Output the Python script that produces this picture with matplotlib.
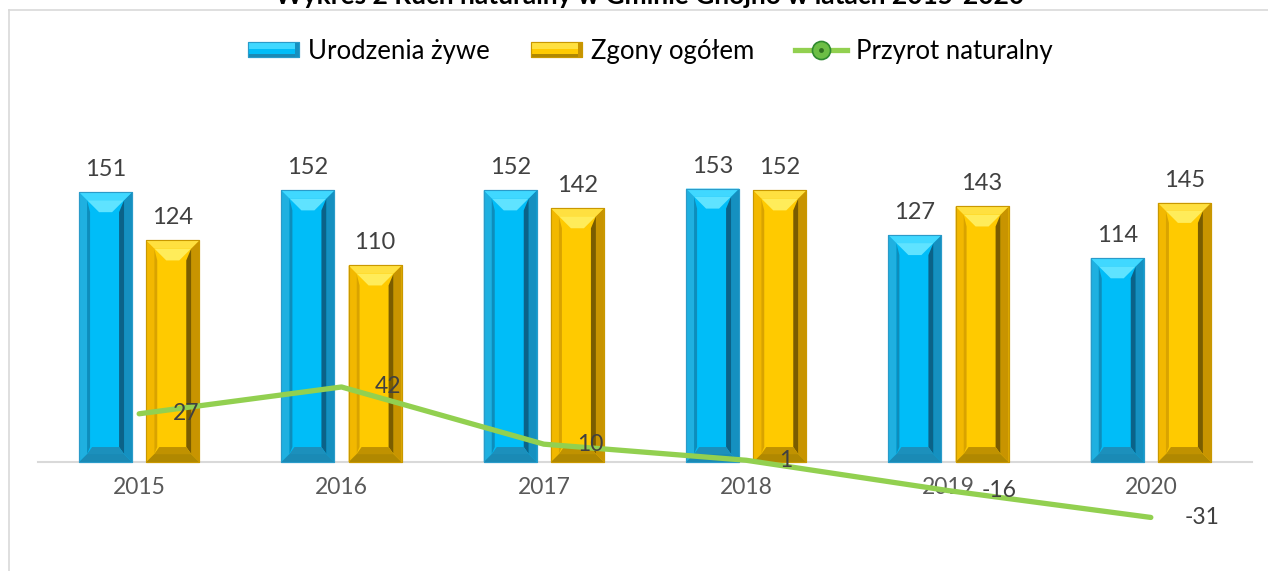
import numpy as np
import matplotlib
matplotlib.use("Agg")
import matplotlib.pyplot as plt
from matplotlib.patches import Polygon, Rectangle
from matplotlib.lines import Line2D
from matplotlib.legend_handler import HandlerBase, HandlerTuple

plt.rcParams['font.family'] = ['Lato', 'DejaVu Sans']

# data
years = ['2015', '2016', '2017', '2018', '2019', '2020']
urodzenia = [151, 152, 152, 153, 127, 114]
zgony = [124, 110, 142, 152, 143, 145]
przyrost = [27, 42, 10, 1, -16, -31]

title = 'Wykres 2 Ruch naturalny w Gminie Gnojno w latach 2015-2020'
labels = ['Urodzenia żywe', 'Zgony ogółem', 'Przyrot naturalny']

# bevel palettes
BLUE = dict(face='#00BDF8', edge='#2A9BC9', otop='#40D8FF', oleft='#1FB0E0',
            oright='#1590C0', obot='#1A8AB5', itop='#5FE3FF', iright='#0B6288',
            ileft='#0E8DBB', ibot='#1C90BC')
GOLD = dict(face='#FFCA00', edge='#C99800', otop='#FFE040', oleft='#F2B800',
            oright='#C89400', obot='#B08800', itop='#FFEC5A', iright='#7A5C00',
            ileft='#D9A300', ibot='#C09200')

W, H = 1268, 571
fig = plt.figure(figsize=(W / 100, H / 100), dpi=100)
ax = fig.add_axes([38 / W, (H - 551.4) / H, 1214 / W, 446.8 / H])
ax.set_xlim(-0.5, 5.5)
ax.set_ylim(-50, 200)

x = np.arange(len(years))
bw = 0.262
off = 0.166
b1 = ax.bar(x - off, urodzenia, bw, color=BLUE['face'], edgecolor=BLUE['edge'], lw=0.8, zorder=2)
b2 = ax.bar(x + off, zgony, bw, color=GOLD['face'], edgecolor=GOLD['edge'], lw=0.8, zorder=2)

# pixel -> data conversion
p0 = ax.transData.transform((0, 0))
p1 = ax.transData.transform((1, 1))
pxx = p1[0] - p0[0]
pxy = p1[1] - p0[1]


def bevel(bar, c):
    x0 = bar.get_x()
    x1 = x0 + bar.get_width()
    y1 = bar.get_height()
    bx, by = 8 / pxx, 8 / pxy
    tx, ty = 12 / pxx, 12 / pxy
    bty = 7 / pxy
    sx = 5 / pxx
    polys = [
        ([(x0, 0), (x0 + bx, by), (x0 + bx, y1 - by), (x0, y1)], c['oleft']),
        ([(x1, 0), (x1 - bx, by), (x1 - bx, y1 - by), (x1, y1)], c['oright']),
        ([(x0, y1), (x1, y1), (x1 - bx, y1 - by), (x0 + bx, y1 - by)], c['otop']),
        ([(x0, 0), (x1, 0), (x1 - bx, by), (x0 + bx, by)], c['obot']),
        ([(x0 + bx, by), (x1 - bx, by), (x1 - bx, y1 - by), (x0 + bx, y1 - by)], c['face']),
        ([(x1 - bx - sx, by + bty), (x1 - bx, by), (x1 - bx, y1 - by), (x1 - bx - sx, y1 - by - ty)], c['iright']),
        ([(x0 + bx, by), (x0 + bx + sx * 0.6, by + bty), (x0 + bx + sx * 0.6, y1 - by - ty), (x0 + bx, y1 - by)], c['ileft']),
        ([(x0 + bx, y1 - by), (x1 - bx, y1 - by), (x1 - bx - tx, y1 - by - ty), (x0 + bx + tx, y1 - by - ty)], c['itop']),
        ([(x0 + bx, by), (x1 - bx, by), (x1 - bx - sx, by + bty), (x0 + bx + sx, by + bty)], c['ibot']),
    ]
    for pts, col in polys:
        ax.add_patch(Polygon(pts, closed=True, facecolor=col, edgecolor='none', zorder=3))
    ax.add_patch(Rectangle((x0, 0), x1 - x0, y1, fill=False, edgecolor=c['edge'], lw=0.8, zorder=4))


for bar in b1:
    bevel(bar, BLUE)
for bar in b2:
    bevel(bar, GOLD)

for bars, vals in ((b1, urodzenia), (b2, zgony)):
    for bar, v in zip(bars, vals):
        ax.annotate(str(v), (bar.get_x() + bar.get_width() / 2, v), xytext=(0, 11.5),
                    textcoords='offset points', ha='center', va='baseline',
                    fontsize=17, color='#404040', zorder=6)

ax.plot(x, przyrost, color='#92D050', lw=3.8, solid_capstyle='round', zorder=5)
for xi, v in zip(x, przyrost):
    ax.annotate(str(v), (xi, v), xytext=(24, 0), textcoords='offset points',
                ha='left', va='center', fontsize=16.5, color='#404040', zorder=6)

# axes styling
for s in ['top', 'right', 'left']:
    ax.spines[s].set_visible(False)
ax.spines['bottom'].set_position(('data', 0))
ax.spines['bottom'].set_color('#D9D9D9')
ax.spines['bottom'].set_linewidth(1.5)
ax.spines['bottom'].set_zorder(1)
ax.set_yticks([])
ax.set_xticks(x)
ax.set_xticklabels(years, fontsize=16.5, color='#595959')
ax.tick_params(axis='x', length=0, pad=11)
ax.patch.set_alpha(0)


# legend
class BevelHandler(HandlerBase):
    def __init__(self, c):
        super().__init__()
        self.c = c

    def create_artists(self, legend, orig, xd, yd, width, height, fontsize, trans):
        c = self.c
        h = height * 1.0
        y0 = -yd + (height - h) / 2
        arts = [
            Rectangle((-xd, y0), width, h, facecolor=c['face'], edgecolor=c['edge'], lw=0.8),
            Rectangle((-xd, y0 + h * 0.55), width, h * 0.45, facecolor=c['otop'], edgecolor='none'),
            Rectangle((-xd, y0), width, h * 0.2, facecolor=c['obot'], edgecolor='none'),
            Rectangle((-xd + width - 3, y0), 3, h, facecolor=c['oright'], edgecolor='none'),
            Rectangle((-xd, y0), width, h, fill=False, edgecolor=c['edge'], lw=0.8),
        ]
        for a in arts:
            a.set_transform(trans)
        return arts


hb = Rectangle((0, 0), 1, 1)
hy = Rectangle((0, 0), 1, 1)
hl = Line2D([], [], color='#92D050', lw=3.8, marker='o', markersize=13,
            markerfacecolor='#6CBE45', markeredgecolor='#2F8A2F', markeredgewidth=1.2)
hd = Line2D([], [], color='none', marker='o', markersize=3.5, markerfacecolor='#2F6F1F',
            markeredgecolor='none')
fig.legend([hb, hy, (hl, hd)], labels, loc='center', bbox_to_anchor=(650 / W, 1 - 51 / H),
           ncol=3, frameon=False, fontsize=18.5, handlelength=2.0, handleheight=0.5,
           handletextpad=0.35, columnspacing=1.6, borderaxespad=0,
           handler_map={hb: BevelHandler(BLUE), hy: BevelHandler(GOLD),
                        tuple: HandlerTuple(ndivide=1)})

# chart frame and clipped title
fig.add_artist(Line2D([9 / W, 1], [1 - 10 / H, 1 - 10 / H], color='#D9D9D9', lw=1.2))
fig.add_artist(Line2D([9 / W, 9 / W], [0, 1 - 10 / H], color='#D9D9D9', lw=1.2))
fig.text(650 / W, 1 - 4 / H, title, ha='center', va='baseline', fontsize=19,
         fontweight='bold', color='#000000')

fig.savefig('out.png', dpi=100)
